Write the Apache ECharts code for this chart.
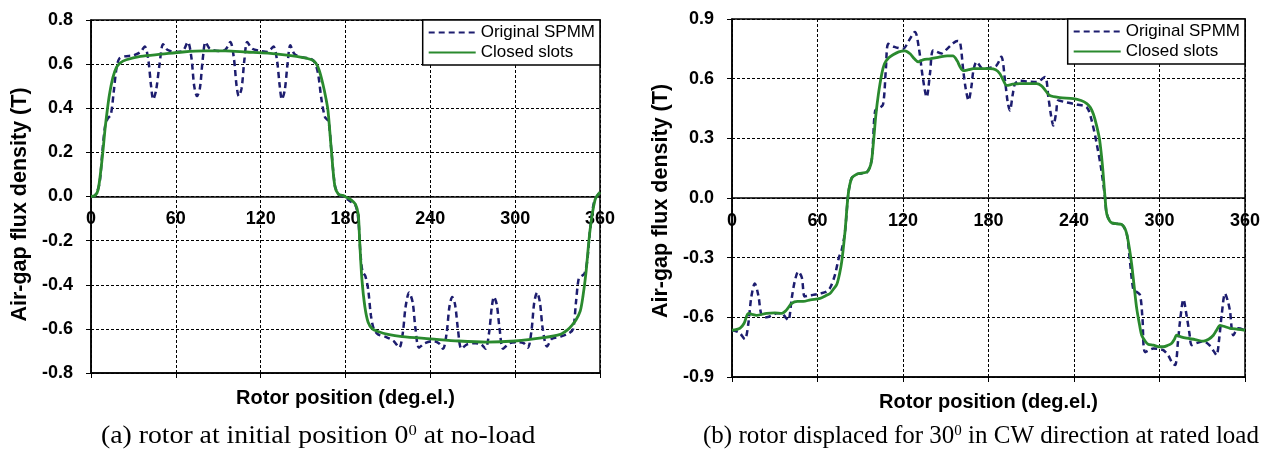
<!DOCTYPE html>
<html>
<head>
<meta charset="utf-8">
<title>Air-gap flux density</title>
<script src="https://cdn.jsdelivr.net/npm/echarts@6.0.0/dist/echarts.min.js"></script>
<style>
  html, body { margin: 0; padding: 0; background: #fff; }
  #chart { width: 1268px; height: 457px; }
</style>
</head>
<body>
<div id="chart"></div>
<script>
// x axis (both plots), deg.el.
const xTicks = [0, 60, 120, 180, 240, 300, 360]
const aYTicks = [-0.8, -0.6, -0.4, -0.2, 0, 0.2, 0.4, 0.6, 0.8]
const bYTicks = [-0.9, -0.6, -0.3, 0, 0.3, 0.6, 0.9]

// (a) rotor at initial position, no-load  [deg, T]
const aOriginal = [
  [0, 0], [3, 0.005], [6, 0.06], [8, 0.2], [10, 0.32], [12, 0.355], [14, 0.37], [16, 0.47], [18, 0.58], [20, 0.625],
  [24, 0.635], [30, 0.64], [35, 0.655], [38, 0.68], [40.5, 0.62], [42.5, 0.5], [44, 0.44], [46, 0.48], [48.5, 0.6], [51, 0.69],
  [54, 0.665], [60, 0.655], [65, 0.66], [68.5, 0.70], [71, 0.63], [73, 0.5], [75, 0.455], [77, 0.49], [79, 0.62], [81, 0.70],
  [84, 0.67], [90, 0.66], [95, 0.665], [98.5, 0.70], [101, 0.63], [103, 0.5], [104.5, 0.455], [106.5, 0.49], [108.5, 0.62], [110.5, 0.70],
  [114, 0.67], [120, 0.66], [125, 0.655], [129, 0.68], [131.5, 0.62], [133.5, 0.5], [135, 0.44], [137, 0.48], [139, 0.6], [141, 0.685],
  [144, 0.645], [150, 0.63], [155, 0.625], [158, 0.61], [160.5, 0.56], [163, 0.44], [165.5, 0.36], [168, 0.34], [170, 0.21], [172.5, 0.05],
  [175, 0.01], [178, 0], [183, -0.02], [187, -0.04], [189, -0.1], [190.5, -0.25], [192, -0.34], [194, -0.36], [196, -0.42], [198, -0.54],
  [200, -0.6], [203, -0.625], [208, -0.635], [214, -0.655], [218, -0.685], [220.5, -0.62], [222.5, -0.5], [225, -0.435], [227.5, -0.48], [229.5, -0.6],
  [232, -0.685], [236, -0.665], [242, -0.655], [246, -0.665], [249, -0.69], [251.5, -0.62], [253.5, -0.5], [255.5, -0.455], [257.5, -0.49], [259.5, -0.6],
  [262, -0.69], [266, -0.67], [272, -0.665], [276, -0.67], [279, -0.69], [281.5, -0.62], [283.5, -0.5], [285, -0.455], [287, -0.49], [289, -0.6],
  [291.5, -0.69], [296, -0.665], [302, -0.66], [306, -0.665], [309, -0.685], [311.5, -0.61], [313.5, -0.48], [315.5, -0.435], [317.5, -0.48], [319.5, -0.6],
  [322.5, -0.68], [326, -0.645], [332, -0.635], [338, -0.62], [341, -0.6], [343, -0.48], [345, -0.37], [347, -0.36], [349, -0.35], [351, -0.29],
  [353, -0.15], [356, -0.02], [360, 0.02]
]
const aClosed = [
  [0, 0], [3, 0.005], [5, 0.03], [7, 0.12], [8.5, 0.21], [10, 0.31], [11.5, 0.39], [13, 0.46], [15.5, 0.54], [18, 0.585],
  [20.5, 0.605], [25, 0.62], [35, 0.635], [50, 0.645], [65, 0.655], [80, 0.66], [95, 0.66], [110, 0.655], [125, 0.65], [140, 0.64],
  [150, 0.63], [156, 0.62], [159, 0.605], [161.5, 0.57], [164, 0.51], [166, 0.45], [167.6, 0.39], [170, 0.21], [172.5, 0.045], [175, 0.01],
  [178, 0.005], [181, -0.005], [184, -0.015], [187, -0.035], [189, -0.08], [190, -0.2], [191.6, -0.375], [193.7, -0.5], [196, -0.57], [199, -0.6],
  [203, -0.612], [210, -0.625], [220, -0.635], [240, -0.645], [260, -0.655], [280, -0.66], [300, -0.655], [320, -0.64], [332, -0.625], [337, -0.605],
  [340, -0.585], [343, -0.56], [346, -0.52], [348, -0.45], [350, -0.35], [353, -0.15], [356.5, -0.015], [360, 0.02]
]

// (b) rotor displaced 30 deg CW, rated load  [deg, T]
const bOriginal = [
  [0, -0.665], [3, -0.67], [5.6, -0.68], [9, -0.71], [11.5, -0.63], [13.5, -0.5], [16, -0.43], [18.5, -0.49], [20.8, -0.59], [24.3, -0.6],
  [28, -0.59], [31.4, -0.58], [35, -0.58], [37.5, -0.6], [39.5, -0.615], [42, -0.5], [44, -0.42], [46.5, -0.37], [49, -0.4], [51, -0.495],
  [54, -0.49], [57, -0.487], [62, -0.48], [66.4, -0.47], [69, -0.45], [72.3, -0.385], [75, -0.3], [77, -0.26], [79.3, -0.17], [81.6, 0.02],
  [84, 0.1], [87.5, 0.12], [94.5, 0.128], [98, 0.19], [99, 0.29], [100.5, 0.44], [103, 0.45], [106, 0.47], [108, 0.65], [109.7, 0.775],
  [114, 0.76], [120, 0.75], [124, 0.79], [128.4, 0.835], [131, 0.76], [134, 0.6], [136.6, 0.507], [139, 0.63], [141.3, 0.743], [147, 0.727],
  [151, 0.75], [155, 0.777], [158, 0.79], [160, 0.785], [162.3, 0.64], [164, 0.55], [166, 0.49], [168, 0.56], [169.4, 0.64], [171.7, 0.685],
  [176, 0.65], [181, 0.655], [185.7, 0.667], [189, 0.71], [191.6, 0.59], [193.5, 0.48], [195, 0.44], [197, 0.52], [198.6, 0.575], [202, 0.59],
  [208, 0.585], [213.8, 0.583], [219.6, 0.608], [222, 0.507], [224, 0.41], [225.5, 0.364], [227.5, 0.43], [229, 0.49], [235, 0.48], [242, 0.47],
  [249, 0.456], [252.4, 0.39], [256, 0.27], [259, 0.15], [261.8, 0], [263, -0.08], [266.5, -0.125], [273.5, -0.133], [277, -0.18], [279, -0.3],
  [281.6, -0.46], [283.5, -0.47], [286.3, -0.487], [288, -0.6], [290, -0.775], [295.7, -0.757], [300, -0.76], [302.7, -0.765], [306, -0.79], [309, -0.83],
  [311, -0.84], [313, -0.72], [314.4, -0.62], [316.8, -0.51], [319, -0.59], [321, -0.68], [322.6, -0.74], [326, -0.73], [330.7, -0.72], [335, -0.74],
  [338, -0.77], [340, -0.79], [342, -0.7], [343.6, -0.59], [346, -0.48], [348, -0.52], [349.5, -0.57], [351.8, -0.69], [355.4, -0.655], [360, -0.665]
]
const bClosed = [
  [0, -0.665], [5.6, -0.655], [8.5, -0.63], [11.5, -0.58], [14, -0.585], [17.3, -0.59], [24.3, -0.58], [30, -0.578], [34.9, -0.58], [38, -0.565],
  [41.9, -0.53], [46, -0.52], [50, -0.52], [55, -0.512], [61.8, -0.505], [66, -0.49], [68.8, -0.48], [71, -0.46], [73.5, -0.435], [75.5, -0.38],
  [77, -0.32], [79.3, -0.17], [81.6, 0.02], [84, 0.1], [87.5, 0.12], [91, 0.125], [94.5, 0.13], [96.5, 0.15], [98, 0.19], [99.5, 0.3],
  [101, 0.42], [102.7, 0.52], [105, 0.62], [107, 0.675], [110, 0.705], [113, 0.72], [117, 0.735], [121.4, 0.74], [125, 0.725], [128, 0.7],
  [130.7, 0.685], [134, 0.695], [139, 0.7], [146, 0.71], [151, 0.715], [155, 0.715], [158, 0.69], [160, 0.66], [162.3, 0.64], [166, 0.645],
  [169.4, 0.65], [175, 0.65], [181, 0.65], [185, 0.645], [188, 0.625], [190.5, 0.59], [192.8, 0.566], [197, 0.572], [202, 0.575], [208, 0.575],
  [213.8, 0.575], [217, 0.565], [220, 0.54], [223, 0.515], [230, 0.505], [239.5, 0.5], [245, 0.49], [249, 0.475], [251.5, 0.455], [253.7, 0.42],
  [256, 0.36], [258, 0.29], [260, 0.16], [261.8, 0], [263, -0.08], [265, -0.115], [266.5, -0.125], [270, -0.13], [273.5, -0.133], [275.5, -0.15],
  [277, -0.18], [278.8, -0.25], [280.5, -0.335], [282.3, -0.45], [284, -0.555], [285.8, -0.63], [287.5, -0.69], [290, -0.72], [292, -0.735], [295.7, -0.74],
  [300, -0.748], [302.7, -0.748], [305.5, -0.742], [308.6, -0.73], [310.5, -0.71], [312, -0.69], [315, -0.698], [319, -0.705], [325, -0.712], [330.7, -0.72],
  [334.5, -0.71], [337.8, -0.69], [340, -0.665], [342.5, -0.64], [345, -0.645], [349.5, -0.655], [355, -0.66], [360, -0.665]
]

const SANS = '"Liberation Sans", Arial, sans-serif'
const SERIF = '"Liberation Serif", "Times New Roman", serif'
const navy = '#1d1d6f'
const green = '#2a8a2e'

const grids = [
  { left: 91, top: 20, width: 509, height: 353 },
  { left: 732, top: 19, width: 513, height: 358 }
]

const step = ticks => +(ticks[1] - ticks[0]).toFixed(3)

// x axis drawn through y = 0: move it up from the bottom by the distance to zero
function zeroAxis(gi, yTicks) {
  const lo = yTicks[0], hi = yTicks[yTicks.length - 1]
  return {
    gridIndex: gi,
    type: 'value',
    position: 'bottom',
    offset: -grids[gi].height * (0 - lo) / (hi - lo),
    min: xTicks[0],
    max: xTicks[xTicks.length - 1],
    interval: step(xTicks),
    axisLine: { onZero: false, lineStyle: { color: '#000', width: 1.5 } },
    axisTick: { show: false },
    axisLabel: { color: '#000', fontFamily: SANS, fontWeight: 'bold', fontSize: 18, margin: 14 },
    splitLine: { show: true, lineStyle: { color: '#000', width: 1, type: [3, 2] } }
  }
}

function bottomAxis(gi) {
  return {
    gridIndex: gi,
    type: 'value',
    position: 'bottom',
    min: xTicks[0],
    max: xTicks[xTicks.length - 1],
    interval: step(xTicks),
    axisLine: { onZero: false, lineStyle: { color: '#000', width: 1.5 } },
    axisTick: { show: true, length: 5, lineStyle: { color: '#000', width: 1 } },
    axisLabel: { show: false },
    splitLine: { show: false },
    name: 'Rotor position (deg.el.)',
    nameLocation: 'middle',
    nameGap: 15,
    nameTextStyle: { color: '#000', fontFamily: SANS, fontWeight: 'bold', fontSize: 20 }
  }
}

function fluxAxis(gi, ticks, shift) {
  return {
    gridIndex: gi,
    type: 'value',
    min: ticks[0],
    max: ticks[ticks.length - 1],
    interval: step(ticks),
    axisLine: { onZero: false, lineStyle: { color: '#000', width: 1.5 } },
    axisTick: { show: true, length: 5, lineStyle: { color: '#000', width: 1 } },
    axisLabel: {
      color: '#000', fontFamily: SANS, fontWeight: 'bold', fontSize: 18, margin: 18,
      formatter: v => v.toFixed(1)
    },
    splitLine: { show: true, lineStyle: { color: '#000', width: 1, type: [3, 2] } },
    name: 'Air-gap flux density (T)',
    nameLocation: 'middle',
    nameRotate: 90,
    nameGap: 60,
    nameTextStyle: {
      color: '#000', fontFamily: SANS, fontWeight: 'bold', fontSize: 21.5,
      padding: [0, shift, 0, 0]
    }
  }
}

function legendBox(right, top) {
  return {
    right: right,
    top: top,
    orient: 'vertical',
    align: 'left',
    padding: [4, 5, 4, 5],
    itemGap: 3,
    itemWidth: 47,
    itemHeight: 12,
    borderColor: '#000',
    borderWidth: 1.5,
    borderRadius: 0,
    backgroundColor: '#fff',
    itemStyle: { color: 'rgba(0,0,0,0)', borderWidth: 0, opacity: 0 },
    textStyle: { color: '#000', fontFamily: SANS, fontSize: 17 },
    data: ['Original SPMM', 'Closed slots']
  }
}

function origSeries(gi, data) {
  return {
    name: 'Original SPMM', type: 'line', xAxisIndex: gi * 2, yAxisIndex: gi,
    data: data, showSymbol: false, symbol: 'none', smooth: 0.3,
    lineStyle: { color: navy, width: 2.5, type: [6, 4] }, itemStyle: { color: navy }
  }
}

function closedSeries(gi, data) {
  return {
    name: 'Closed slots', type: 'line', xAxisIndex: gi * 2, yAxisIndex: gi,
    data: data, showSymbol: false, symbol: 'none', smooth: 0.3,
    lineStyle: { color: green, width: 2.8 }, itemStyle: { color: green }
  }
}

function caption(left, text, scaleX) {
  return {
    type: 'text', left: left, top: 424, scaleX: scaleX,
    style: {
      text: text,
      fontFamily: SERIF, fontSize: 25, fill: '#000',
      rich: { s: { fontFamily: SERIF, fontSize: 15, verticalAlign: 'top' } }
    }
  }
}

const chart = echarts.init(document.getElementById('chart'))
chart.setOption({
  backgroundColor: '#fff',
  animation: false,
  grid: grids.map(g => Object.assign({ show: true, borderColor: '#000', borderWidth: 1.5, backgroundColor: 'transparent' }, g)),
  xAxis: [zeroAxis(0, aYTicks), bottomAxis(0), zeroAxis(1, bYTicks), bottomAxis(1)],
  yAxis: [fluxAxis(0, aYTicks, 16), fluxAxis(1, bYTicks, 6)],
  legend: [legendBox(668, 20), legendBox(23, 19)],
  series: [
    origSeries(0, aOriginal),
    closedSeries(0, aClosed),
    origSeries(1, bOriginal),
    closedSeries(1, bClosed)
  ],
  graphic: [
    caption(101, '(a) rotor at initial position 0{s|0} at no-load', 1.11),
    caption(703, '(b) rotor displaced for 30{s|0} in CW direction at rated load', 1)
  ]
})
</script>
</body>
</html>
